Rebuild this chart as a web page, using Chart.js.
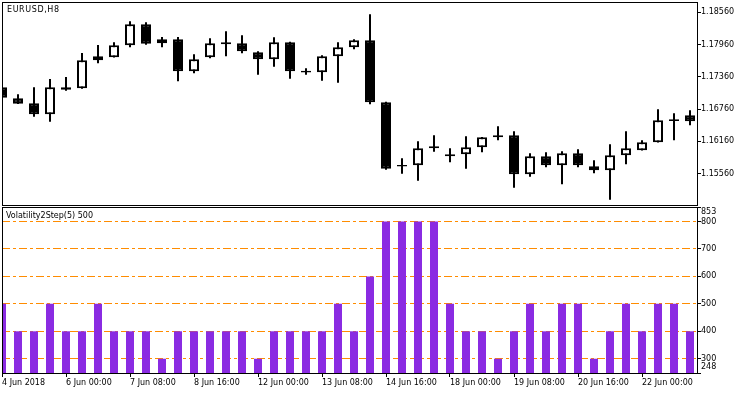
<!DOCTYPE html>
<html>
<head>
<meta charset="utf-8">
<script src="https://cdn.jsdelivr.net/npm/chart.js@4.4.0/dist/chart.umd.min.js"></script>
<style>
  html, body { margin: 0; padding: 0; background: #fff; }
  #wrap { position: relative; width: 750px; height: 394px; overflow: hidden; font-family: "DejaVu Sans", sans-serif; font-size: 8px; }
  canvas { position: absolute; left: 0; }
  .lbl { position: absolute; line-height: 10px; white-space: nowrap; color: #000; }
</style>
</head>
<body>
<div id="wrap">
  <canvas id="price" width="750" height="206" style="top:0"></canvas>
  <canvas id="vol" width="750" height="188" style="top:206px"></canvas>
  <div class="lbl" style="left:7px;top:5px;letter-spacing:0.6px">EURUSD,H8</div>
  <div class="lbl" style="left:6px;top:211px">Volatility2Step(5) 500</div>
  <div class="lbl" style="left:701px;top:207px">853</div>
  <div class="lbl" style="left:701px;top:362px">248</div>
</div>
<script>
// H8 bars, 4 Jun 2018 .. 22 Jun 2018
const xTickLabels = ['4 Jun 2018', '6 Jun 00:00', '7 Jun 08:00', '8 Jun 16:00', '12 Jun 00:00', '13 Jun 08:00',
    '14 Jun 16:00', '18 Jun 00:00', '19 Jun 08:00', '20 Jun 16:00', '22 Jun 00:00'];

const opens = [1.17166, 1.16962, 1.16869, 1.16664, 1.17121, 1.17147, 1.17668, 1.17724, 1.17947, 1.18337,
    1.17984, 1.18058, 1.17463, 1.17724, 1.17968, 1.17984, 1.17817, 1.17686, 1.18002, 1.17475,
    1.17445, 1.17742, 1.17909, 1.18040, 1.16887, 1.15722, 1.15716, 1.16032, 1.15883, 1.15921,
    1.16051, 1.16237, 1.16274, 1.15549, 1.15883, 1.15716, 1.15939, 1.15698, 1.15623, 1.15902,
    1.15995, 1.16144, 1.16537, 1.16646];
const highs = [1.17180, 1.17036, 1.17166, 1.17320, 1.17357, 1.17804, 1.17952, 1.18002, 1.18393, 1.18374,
    1.18101, 1.18101, 1.17779, 1.18077, 1.18207, 1.18132, 1.17835, 1.18095, 1.18010, 1.17519,
    1.17761, 1.18002, 1.18058, 1.18523, 1.16895, 1.15846, 1.16162, 1.16274, 1.16032, 1.16255,
    1.16240, 1.16441, 1.16348, 1.15939, 1.15958, 1.15976, 1.16014, 1.15809, 1.16107, 1.16348,
    1.16181, 1.16757, 1.16683, 1.16738];
const lows = [1.16960, 1.16855, 1.16620, 1.16527, 1.17103, 1.17140, 1.17612, 1.17718, 1.17909, 1.17958,
    1.17909, 1.17277, 1.17426, 1.17705, 1.17742, 1.17798, 1.17400, 1.17549, 1.17326, 1.17400,
    1.17289, 1.17251, 1.17872, 1.16850, 1.15634, 1.15560, 1.15430, 1.15969, 1.15772, 1.15653,
    1.15958, 1.16181, 1.15300, 1.15504, 1.15679, 1.15363, 1.15679, 1.15567, 1.15077, 1.15735,
    1.15990, 1.16140, 1.16181, 1.16460];
const closes = [1.16973, 1.16861, 1.16664, 1.17166, 1.17166, 1.17668, 1.17742, 1.17947, 1.18337, 1.17976,
    1.18058, 1.17463, 1.17686, 1.17984, 1.18003, 1.17835, 1.17686, 1.18002, 1.17463, 1.17440,
    1.17742, 1.17909, 1.18040, 1.16887, 1.15653, 1.15694, 1.16032, 1.16069, 1.15921, 1.16051,
    1.16237, 1.16274, 1.15549, 1.15883, 1.15716, 1.15939, 1.15716, 1.15623, 1.15902, 1.16032,
    1.16144, 1.16553, 1.16572, 1.16534];

const volatility = [500, 400, 400, 500, 400, 400, 500, 400, 400, 400,
    300, 400, 400, 400, 400, 400, 300, 400, 400, 400,
    400, 500, 400, 600, 800, 800, 800, 800, 500, 400,
    400, 300, 400, 500, 400, 500, 500, 300, 400, 500,
    400, 500, 500, 400];

const priceTicks = [1.15560, 1.16160, 1.16760, 1.17360, 1.17960, 1.18560];
const priceMin = 1.14978, priceMax = 1.18751;
const volLevels = [300, 400, 500, 600, 700, 800];
const volMin = 248, volMax = 853;

const font = { family: '"DejaVu Sans", sans-serif', size: 8 };
const lastX = 43.4375; // right edge, in bars

// black frame round the plot area
const frame = {
    id: 'frame',
    afterDraw(chart) {
        const { ctx, chartArea: a } = chart;
        ctx.save();
        ctx.strokeStyle = '#000';
        ctx.lineWidth = 1;
        ctx.strokeRect(Math.round(a.left) + 0.5, Math.round(a.top) + 0.5,
            Math.round(a.right - a.left), Math.round(a.bottom - a.top));
        ctx.restore();
    }
};

function noPad(s) {
    s.paddingTop = s.paddingBottom = s.paddingLeft = s.paddingRight = 0;
}

function xScale(show) {
    return {
        type: 'linear', min: 0, max: lastX, offset: false, display: show,
        grid: { offset: false, drawOnChartArea: false, tickLength: 4, tickColor: '#000' },
        border: { display: false },
        afterBuildTicks: s => { s.ticks = xTickLabels.map((_, i) => ({ value: i * 4 })); },
        afterFit: s => { noPad(s); if (show) s.height = 21; },
        ticks: { autoSkip: false, maxRotation: 0, align: 'start', padding: 1, color: '#000', font,
            callback: v => xTickLabels[Math.round(v / 4)] }
    };
}

const barBase = { type: 'bar', grouped: false, inflateAmount: 0, borderSkipped: false };

new Chart(document.getElementById('price'), {
    type: 'bar',
    data: {
        datasets: [
            {
                ...barBase, order: 1,
                data: opens.map((o, i) => ({ x: i, y: [o, closes[i]] })),
                backgroundColor: opens.map((o, i) => closes[i] >= o ? '#fff' : '#000'),
                borderColor: '#000', borderWidth: 2, barThickness: 10
            },
            {
                ...barBase, order: 2,
                data: lows.map((l, i) => ({ x: i, y: [l, highs[i]] })),
                backgroundColor: '#000', borderWidth: 0, barThickness: 2
            }
        ]
    },
    options: {
        responsive: false, animation: false,
        layout: { padding: { left: 2, top: 2, right: 0, bottom: 1 } },
        plugins: { legend: { display: false }, tooltip: { enabled: false } },
        scales: {
            x: xScale(false),
            y: {
                position: 'right', min: priceMin, max: priceMax,
                afterBuildTicks: s => { s.ticks = priceTicks.map(v => ({ value: v })); },
                afterFit: s => { noPad(s); s.width = 53; },
                grid: { drawOnChartArea: false, tickLength: 4, tickColor: '#000' },
                border: { display: false },
                ticks: { padding: 0, color: '#000', font, callback: v => v.toFixed(5) }
            }
        }
    },
    plugins: [frame]
});

new Chart(document.getElementById('vol'), {
    type: 'bar',
    data: {
        datasets: [{
            ...barBase,
            data: volatility.map((v, i) => ({ x: i, y: v })),
            backgroundColor: '#8A2BE2', borderWidth: 0, barThickness: 8
        }]
    },
    options: {
        responsive: false, animation: false,
        layout: { padding: { left: 2, top: 1, right: 0, bottom: 0 } },
        plugins: { legend: { display: false }, tooltip: { enabled: false } },
        scales: {
            x: xScale(true),
            y: {
                position: 'right', min: volMin, max: volMax, z: 1,
                afterBuildTicks: s => { s.ticks = [volMin, ...volLevels, volMax].map(v => ({ value: v })); },
                afterFit: s => { noPad(s); s.width = 53; },
                grid: {
                    tickLength: 4, tickColor: '#000',
                    color: c => volLevels.includes(c.tick && c.tick.value) ? '#FF8C00' : 'rgba(0,0,0,0)'
                },
                border: { display: false, dash: [8, 3, 3, 3] },
                ticks: { padding: 0, color: '#000', font,
                    callback: v => volLevels.includes(v) ? String(v) : '' }
            }
        }
    },
    plugins: [frame]
});
</script>
</body>
</html>
